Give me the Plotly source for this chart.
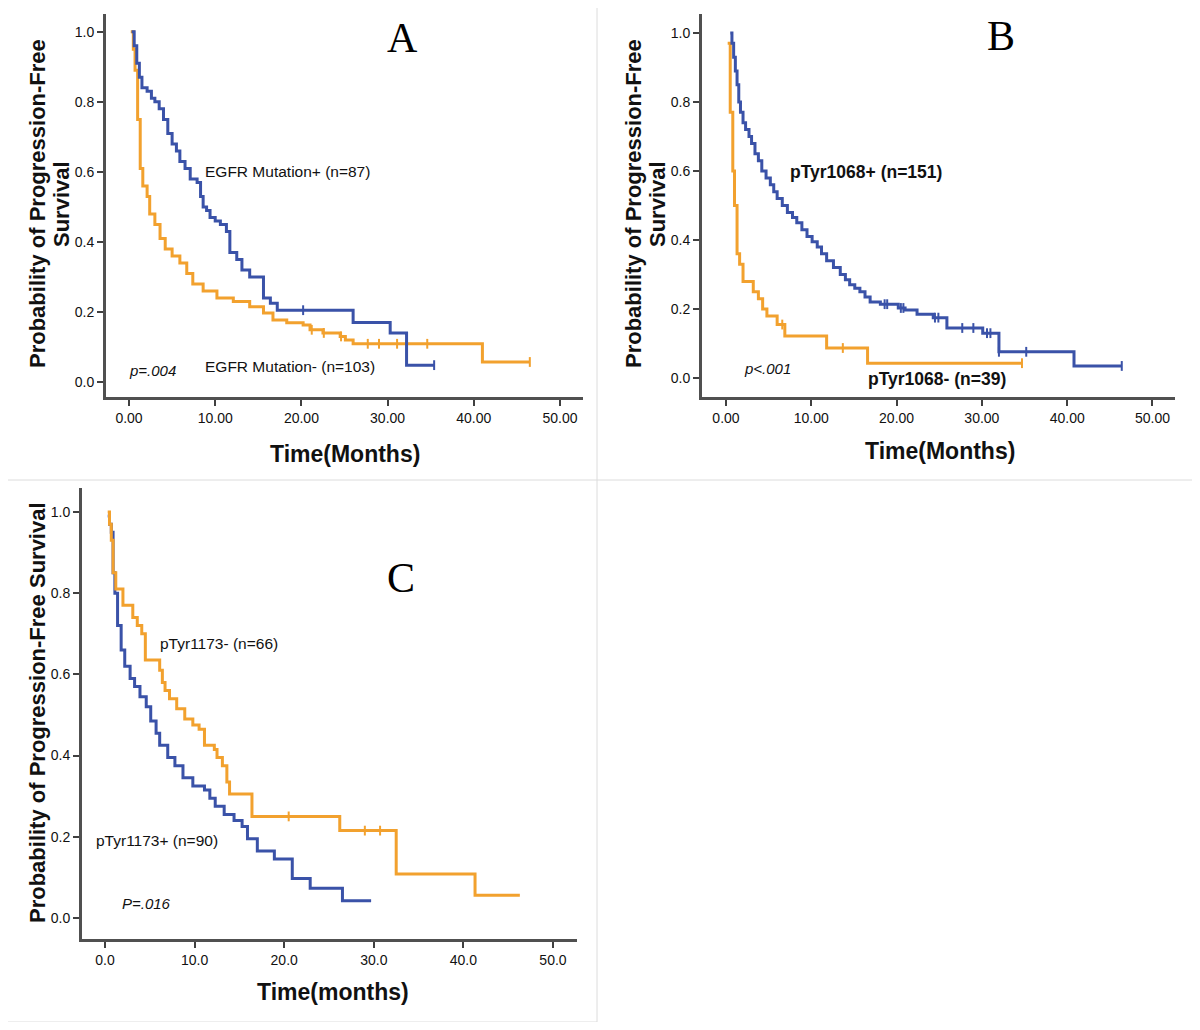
import plotly.graph_objects as go

# ---------------- data ----------------
# Panel A: EGFR mutation
a_pos_t = [0.3, 0.6, 0.9, 1.2, 1.5, 2.1, 2.6, 3.0, 3.5, 4.0, 4.5, 5.0, 5.5, 5.9, 6.5, 7.1, 7.9, 8.3, 8.6,
           9.0, 9.4, 10.0, 10.6, 11.3, 11.7, 12.5, 13.1, 14.0, 15.6, 16.4, 17.2, 26.0, 30.3, 32.2, 35.4]
a_pos_s = [1.0, 0.96, 0.91, 0.87, 0.84, 0.83, 0.81, 0.80, 0.78, 0.75, 0.71, 0.68, 0.66, 0.63, 0.61, 0.58, 0.57, 0.53, 0.50,
           0.49, 0.47, 0.46, 0.45, 0.43, 0.37, 0.35, 0.32, 0.30, 0.24, 0.225, 0.205, 0.17, 0.14, 0.048, 0.048]
a_pos_cens = [20.2, 35.4]
a_neg_t = [0.2, 0.5, 0.7, 1.0, 1.3, 1.6, 2.1, 2.4, 3.0, 3.6, 4.2, 5.0, 5.9, 6.7, 7.4, 8.6, 10.2, 12.1, 14.0,
           15.6, 16.7, 18.3, 20.2, 21.0, 22.5, 24.5, 25.1, 26.0, 41.0, 46.5]
a_neg_s = [1.0, 0.95, 0.89, 0.75, 0.61, 0.56, 0.53, 0.48, 0.45, 0.41, 0.38, 0.36, 0.34, 0.31, 0.28, 0.26, 0.24, 0.23, 0.215,
           0.197, 0.177, 0.169, 0.163, 0.149, 0.14, 0.13, 0.12, 0.109, 0.057, 0.057]
a_neg_cens = [21.2, 22.6, 24.6, 27.7, 29.0, 31.1, 34.6, 46.5]

# Panel B: pTyr1068
b_pos_t = [0.5, 0.7, 0.9, 1.1, 1.3, 1.5, 1.7, 2.0, 2.3, 2.7, 3.0, 3.4, 3.8, 4.2, 4.7, 5.2, 5.6, 6.0, 6.6, 7.2,
           7.8, 8.3, 8.9, 9.5, 10.1, 10.7, 11.2, 11.8, 12.6, 13.4, 14.0, 14.5, 15.1, 15.7, 16.3, 16.9, 18.1,
           20.2, 21.0, 22.4, 24.3, 25.9, 30.1, 32.0, 40.8, 46.4]
b_pos_s = [1.0, 0.97, 0.93, 0.89, 0.85, 0.80, 0.77, 0.74, 0.72, 0.70, 0.68, 0.65, 0.63, 0.60, 0.58, 0.56, 0.54, 0.52, 0.50, 0.48,
           0.465, 0.45, 0.43, 0.41, 0.395, 0.38, 0.36, 0.34, 0.32, 0.30, 0.285, 0.27, 0.26, 0.25, 0.235, 0.22, 0.214,
           0.203, 0.197, 0.185, 0.175, 0.145, 0.13, 0.076, 0.035, 0.035]
b_pos_cens = [18.6, 18.9, 20.5, 20.8, 24.5, 24.9, 27.7, 29.0, 30.6, 31.0, 32.0, 35.2, 46.4]
b_neg_t = [0.2, 0.5, 0.8, 1.0, 1.3, 1.6, 2.0, 3.2, 3.8, 4.3, 4.8, 6.0, 6.9, 11.8, 16.6, 34.7]
b_neg_s = [0.97, 0.77, 0.60, 0.50, 0.36, 0.33, 0.28, 0.25, 0.23, 0.20, 0.18, 0.155, 0.122, 0.087, 0.043, 0.043]
b_neg_cens = [6.6, 13.7, 34.7]

# Panel C: pTyr1173
c_pos_t = [0.3, 0.5, 0.7, 0.9, 1.1, 1.4, 1.8, 2.2, 2.8, 3.3, 3.9, 4.6, 5.1, 5.7, 6.1, 7.0, 7.8, 8.7, 9.8,
           11.1, 11.7, 12.3, 13.3, 14.4, 15.3, 15.9, 17.0, 18.9, 20.9, 22.9, 26.5, 29.7]
c_pos_s = [0.99, 0.97, 0.95, 0.85, 0.80, 0.72, 0.66, 0.62, 0.59, 0.57, 0.545, 0.52, 0.485, 0.455, 0.425, 0.395, 0.375, 0.345, 0.325,
           0.315, 0.295, 0.275, 0.255, 0.24, 0.225, 0.195, 0.165, 0.145, 0.097, 0.073, 0.042, 0.042]
c_neg_t = [0.3, 0.5, 0.7, 0.9, 1.2, 2.0, 3.1, 3.6, 4.1, 4.5, 6.1, 6.4, 6.7, 7.2, 8.0, 8.9, 9.8, 10.5, 11.1,
           12.2, 12.5, 13.1, 13.6, 13.9, 16.4, 26.2, 32.5, 41.3, 46.3]
c_neg_s = [1.0, 0.97, 0.93, 0.85, 0.81, 0.77, 0.74, 0.72, 0.70, 0.635, 0.61, 0.58, 0.56, 0.54, 0.515, 0.49, 0.475, 0.465, 0.425,
           0.415, 0.395, 0.375, 0.335, 0.305, 0.25, 0.215, 0.108, 0.056, 0.056]
c_neg_cens = [20.5, 29.0, 30.7]

y_ticks = [0.0, 0.2, 0.4, 0.6, 0.8, 1.0]
x_ticks = [0, 10, 20, 30, 40, 50]

BLUE = "#3a52a8"
ORANGE = "#f2a12e"
FONT = "Liberation Sans, Arial, sans-serif"

# The page body has an 8px margin; the figure covers window pixels 8..1192 x 8..1022
OFF = 8
W, H = 1184, 1014


def px(x):
    return (x - OFF) / W


def py(y):
    return 1 - (y - OFF) / H


def step_at(ts, ss, t):
    v = ss[0]
    for ti, si in zip(ts, ss):
        if ti <= t:
            v = si
    return v


fig = go.Figure()


def add_curve(ts, ss, cens, color, xa, ya):
    fig.add_trace(go.Scatter(x=ts, y=ss, mode="lines", line=dict(color=color, width=3, shape="hv"),
                             xaxis=xa, yaxis=ya, showlegend=False, hoverinfo="skip"))
    if cens:
        fig.add_trace(go.Scatter(x=cens, y=[step_at(ts, ss, c) for c in cens], mode="markers",
                                 marker=dict(symbol="line-ns-open", size=7, color=color,
                                             line=dict(color=color, width=2)),
                                 xaxis=xa, yaxis=ya, showlegend=False, hoverinfo="skip"))


add_curve(a_neg_t, a_neg_s, a_neg_cens, ORANGE, "x", "y")
add_curve(a_pos_t, a_pos_s, a_pos_cens, BLUE, "x", "y")
add_curve(b_neg_t, b_neg_s, b_neg_cens, ORANGE, "x2", "y2")
add_curve(b_pos_t, b_pos_s, b_pos_cens, BLUE, "x2", "y2")
add_curve(c_pos_t, c_pos_s, [], BLUE, "x3", "y3")
add_curve(c_neg_t, c_neg_s, c_neg_cens, ORANGE, "x3", "y3")

axis_common = dict(showline=True, linecolor="#505050", linewidth=3, ticks="outside", ticklen=6,
                   tickwidth=1.5, tickcolor="#404040", showgrid=False, zeroline=False,
                   tickfont=dict(family=FONT, size=14, color="#111111"), fixedrange=True)

fig.update_layout(
    width=W, height=H, margin=dict(l=0, r=0, t=0, b=0),
    paper_bgcolor="white", plot_bgcolor="white",
    xaxis=dict(domain=[px(106), px(583)], range=[-2.67, 52.67], anchor="y",
               tickvals=x_ticks, tickformat=".2f", **axis_common),
    yaxis=dict(domain=[py(397), py(14)], range=[-0.043, 1.051], anchor="x",
               tickvals=y_ticks, tickformat=".1f", **axis_common),
    xaxis2=dict(domain=[px(702), px(1175)], range=[-2.81, 52.64], anchor="y2",
                tickvals=x_ticks, tickformat=".2f", **axis_common),
    yaxis2=dict(domain=[py(397), py(14)], range=[-0.055, 1.055], anchor="x2",
                tickvals=y_ticks, tickformat=".1f", **axis_common),
    xaxis3=dict(domain=[px(82), px(577)], range=[-2.57, 52.68], anchor="y3",
                tickvals=x_ticks, tickformat=".1f", **axis_common),
    yaxis3=dict(domain=[py(939), py(488)], range=[-0.052, 1.059], anchor="x3",
                tickvals=y_ticks, tickformat=".1f", **axis_common),
)

annots = []


def note(text, x, y, size, bold=False, italic=False, angle=0, family=FONT, color="#111111"):
    t = text
    if bold:
        t = "<b>" + t + "</b>"
    if italic:
        t = "<i>" + t + "</i>"
    annots.append(dict(text=t, x=px(x), y=py(y), xref="paper", yref="paper", showarrow=False,
                       xanchor="center", yanchor="middle", textangle=angle,
                       font=dict(family=family, size=size, color=color)))


# axis titles
note("Probability of Progression-Free", 37, 204, 22, bold=True, angle=-90)
note("Survival", 61, 204, 22, bold=True, angle=-90)
note("Probability of Progression-Free", 633, 204, 22, bold=True, angle=-90)
note("Survival", 657, 204, 22, bold=True, angle=-90)
note("Probability of Progression-Free Survival", 37, 713, 22, bold=True, angle=-90)
note("Time(Months)", 345, 454, 23, bold=True)
note("Time(Months)", 940, 451, 23, bold=True)
note("Time(months)", 333, 992, 23, bold=True)

# panel letters
note("A", 402, 38, 42, family="Liberation Serif, Times New Roman, serif", color="black")
note("B", 1001, 36, 42, family="Liberation Serif, Times New Roman, serif", color="black")
note("C", 401, 578, 42, family="Liberation Serif, Times New Roman, serif", color="black")

# group labels
note("EGFR Mutation+ (n=87)", 287, 172, 15.5)
note("EGFR Mutation- (n=103)", 290, 367, 15.5)
note("p=.004", 152, 370, 15, italic=True)
note("pTyr1068+ (n=151)", 866, 172, 17.5, bold=True)
note("pTyr1068- (n=39)", 937, 379, 17.5, bold=True)
note("p<.001", 767, 368, 15, italic=True)
note("pTyr1173- (n=66)", 219, 643, 15.5)
note("pTyr1173+ (n=90)", 157, 840, 15.5)
note("P=.016", 146, 903, 15, italic=True)

fig.update_layout(annotations=annots)

# panel separators
border = dict(color="#dcdcdc", width=1)
shapes = [
    dict(type="line", xref="paper", yref="paper", x0=px(597), x1=px(597), y0=0, y1=1, line=border),
    dict(type="line", xref="paper", yref="paper", x0=0, x1=1, y0=py(480), y1=py(480), line=border),
    dict(type="line", xref="paper", yref="paper", x0=0, x1=px(597), y0=0, y1=0, line=border),
]
fig.update_layout(shapes=shapes)

fig.write_html("out.html")
